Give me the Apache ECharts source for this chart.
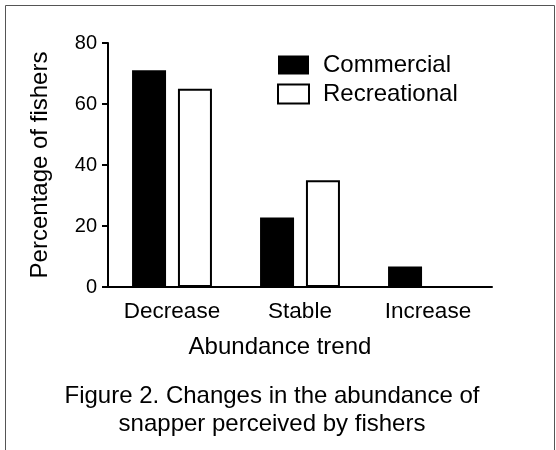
<!DOCTYPE html>
<html>
<head>
<meta charset="utf-8">
<script src="https://cdn.jsdelivr.net/npm/echarts@6/dist/echarts.min.js"></script>
<style>
  html, body { margin: 0; padding: 0; background: #fff; }
  #chart { width: 556px; height: 450px; }
</style>
</head>
<body>
<div id="chart"></div>
<script>
// Perceived abundance trend of snapper, % of fishers in each group
const categories = ['Decrease', 'Stable', 'Increase'];
const commercial = [71.1, 22.8, 6.7];
const recreational = [65, 35, 0];
const yTicks = [0, 20, 40, 60, 80];

const FONT = '"Liberation Sans", Arial, Helvetica, sans-serif';

const chart = echarts.init(document.getElementById('chart'), null, { renderer: 'canvas' });

chart.setOption({
  animation: false,
  backgroundColor: '#fff',
  textStyle: { fontFamily: FONT, color: '#000' },
  grid: { left: 108, right: 64, top: 43, bottom: 163, containLabel: false },
  legend: {
    orient: 'vertical',
    left: 277,
    top: 53,
    padding: 0,
    icon: 'rect',
    itemWidth: 31,
    itemHeight: 19,
    itemGap: 5,
    selectedMode: false,
    textStyle: { fontFamily: FONT, fontSize: 24, color: '#000', padding: [0, 0, 0, 9] },
    data: ['Commercial', 'Recreational']
  },
  xAxis: {
    type: 'category',
    data: categories,
    name: 'Abundance trend',
    nameLocation: 'middle',
    nameGap: 48,
    nameTextStyle: { fontFamily: FONT, fontSize: 24, color: '#000', padding: [0, 40, 0, 0] },
    axisLine: { lineStyle: { color: '#000', width: 2 } },
    axisTick: { alignWithLabel: true, length: 7, lineStyle: { color: '#000', width: 2 } },
    axisLabel: { fontFamily: FONT, fontSize: 22.5, color: '#000', margin: 13 }
  },
  yAxis: {
    type: 'value',
    min: yTicks[0],
    max: yTicks[yTicks.length - 1],
    interval: 20,
    name: 'Percentage of fishers',
    nameLocation: 'middle',
    nameGap: 56,
    nameTextStyle: { fontFamily: FONT, fontSize: 24, color: '#000' },
    splitLine: { show: false },
    axisLine: { show: true, lineStyle: { color: '#000', width: 2 } },
    axisTick: { show: true, length: 6, lineStyle: { color: '#000', width: 2 } },
    axisLabel: { fontFamily: FONT, fontSize: 20, color: '#000', margin: 11 }
  },
  series: [
    {
      name: 'Commercial',
      type: 'bar',
      data: commercial,
      barWidth: 34,
      barGap: '35%',
      itemStyle: { color: '#000', borderColor: '#000', borderWidth: 0 }
    },
    {
      name: 'Recreational',
      type: 'bar',
      data: recreational,
      barWidth: 34,
      barGap: '35%',
      itemStyle: { color: '#fff', borderColor: '#000', borderWidth: 2 }
    }
  ],
  graphic: [
    {
      type: 'rect',
      silent: true,
      shape: { x: 5.5, y: 5.5, width: 549, height: 470 },
      style: { fill: 'none', stroke: '#555', lineWidth: 1 }
    },
    {
      type: 'text',
      silent: true,
      style: {
        x: 272, y: 396,
        text: 'Figure 2. Changes in the abundance of',
        fontFamily: FONT, fontSize: 24, fill: '#000',
        textAlign: 'center', textVerticalAlign: 'middle'
      }
    },
    {
      type: 'text',
      silent: true,
      style: {
        x: 272, y: 424,
        text: 'snapper perceived by fishers',
        fontFamily: FONT, fontSize: 24, fill: '#000',
        textAlign: 'center', textVerticalAlign: 'middle'
      }
    }
  ]
});
</script>
</body>
</html>
